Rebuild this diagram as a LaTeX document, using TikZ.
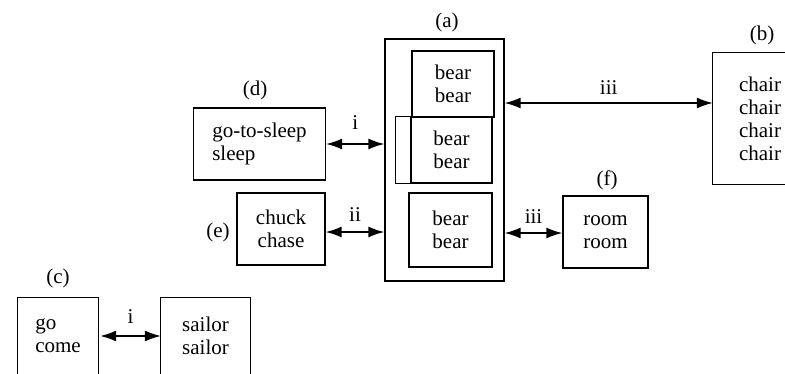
\documentclass[tikz,border=0pt]{standalone}
\usepackage{fontspec}
\setmainfont{Liberation Serif}
\usetikzlibrary{arrows.meta}
\begin{document}
\begin{tikzpicture}[x=1pt,y=-1pt,
  txt/.style={font=\fontsize{21}{23}\selectfont, inner sep=0pt},
  box/.style={txt, draw, line width=1.3pt, align=center},
  openbox/.style={txt, align=center},
  lbl/.style={txt},
  link/.style={line width=1.5pt, {Latex[length=16pt,width=11pt]}-{Latex[length=16pt,width=11pt]}},
  edge/.style={line width=1.3pt}
]
\useasboundingbox (0,0) rectangle (785,373);
% (a) group
\node[box, minimum width=119pt, minimum height=242pt] (a) at (444.5,160) {};
\node[box, minimum width=82pt, minimum height=66pt] (a1) at (453,84) {bear\\bear};
\node[box, minimum width=81pt, minimum height=66pt] (a2) at (451.5,150) {bear\\bear};
\draw[edge] (a2.north west) -- ++(-15,0) coordinate (a2x) |- (a2.south west);
\node[box, minimum width=83pt, minimum height=74pt] (a3) at (450.5,230) {bear\\bear};
\node[lbl] (la) at (447,22) {(a)};
% (b)
\node[openbox, minimum width=94pt, minimum height=131pt] (b) at (760,118.5) {chair\\chair\\chair\\chair};
\draw[edge] ([xshift=72pt]b.north west) -- (b.north west) -- (b.south west) -- ([xshift=72pt]b.south west);
\node[lbl] (lb) at (762,35) {(b)};
% (d)
\node[box, align=left, minimum width=132pt, minimum height=72pt] (d) at (259.5,144) {go-to-sleep\\sleep};
\node[lbl] (ld) at (255,90) {(d)};
% (e)
\node[box, minimum width=88pt, minimum height=72pt] (e) at (281,229) {chuck\\chase};
\node[lbl] (le) at (218,232) {(e)};
% (f)
\node[box, minimum width=85pt, minimum height=72pt] (f) at (605.5,232) {room\\room};
\node[lbl] (lf) at (607,180) {(f)};
% (c)
\node[openbox, align=left, minimum width=80pt, minimum height=76pt] (c) at (58,336) {go\\come};
\draw[edge] (c.south west) -- (c.north west) -- (c.north east) -- (c.south east);
\node[lbl] (lc) at (58,278) {(c)};
\node[openbox, minimum width=89pt, minimum height=76pt] (s) at (205.5,336) {sailor\\sailor};
\draw[edge] (s.south west) -- (s.north west) -- (s.north east) -- (s.south east);
% connectors
\draw[link] (d.east) -- (d.east -| a.west) node[midway, lbl, yshift=21pt] (li1) {i};
\draw[link] ([yshift=-3pt]e.east) -- ([yshift=-3pt]e.east -| a.west) node[midway, lbl, yshift=17pt] (lii) {ii};
\path ([yshift=15.5pt]b.west) coordinate (bw);
\draw[link] (bw -| a.east) -- (bw) node[midway, lbl, yshift=15pt] (liii1) {iii};
\draw[link] ([yshift=-1pt]f.west) -- ([yshift=-1pt]f.west -| a.east) node[midway, lbl, yshift=16pt] (liii2) {iii};
\draw[link] ([xshift=2pt]c.east) -- (s.west) node[midway, lbl, yshift=19pt] (li2) {i};
\end{tikzpicture}
\end{document}
